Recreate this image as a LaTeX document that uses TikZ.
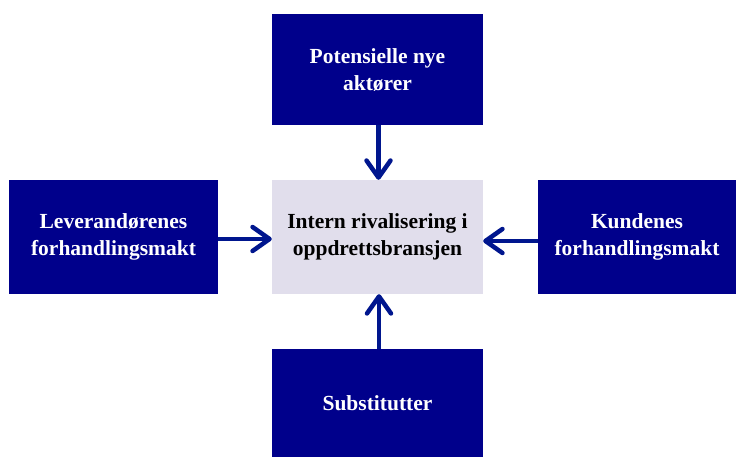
\documentclass[tikz,border=0pt]{standalone}
\usepackage{fontspec}
\setmainfont{Liberation Serif}
\usetikzlibrary{arrows.meta}
\definecolor{boxblue}{RGB}{0,0,139}
\definecolor{arrowblue}{RGB}{0,22,142}
\definecolor{lav}{RGB}{225,222,236}
\tikzset{
  force/.style={fill=boxblue, text=white, inner sep=0pt, align=center,
    font=\bfseries\fontsize{21.5}{27}\selectfont},
  core/.style={fill=lav, text=black, inner sep=0pt, align=center,
    font=\bfseries\fontsize{21.5}{27}\selectfont},
  flow/.style={draw=arrowblue, line width=4.5pt,
    -{Straight Barb[length=17pt,width=24pt,line cap=round,line join=round]}}
}
\begin{document}
\begin{tikzpicture}[x=1pt,y=-1pt]
\useasboundingbox (0,0) rectangle (736,457);
\fill[white] (0,0) rectangle (736,457);
\node[force, minimum width=211pt, minimum height=111pt] (top) at (377.5,69.5) {Potensielle nye\\aktører};
\node[core, minimum width=211pt, minimum height=114pt] (mid) at (377.5,237) {Intern rivalisering i\\oppdrettsbransjen};
\node[force, minimum width=209pt, minimum height=114pt] (left) at (113.5,237) {Leverandørenes\\forhandlingsmakt};
\node[force, minimum width=198pt, minimum height=114pt] (right) at (637,237) {Kundenes\\forhandlingsmakt};
\node[force, minimum width=211pt, minimum height=108pt] (bot) at (377.5,403) {Substitutter};
\draw[flow] ([xshift=1pt]top.south) -- ([xshift=1pt]mid.north);
\draw[flow] ([xshift=1.5pt]bot.north) -- ([xshift=1.5pt]mid.south);
\draw[flow] ([yshift=-2pt]left.east) -- ([yshift=-2pt]mid.west);
\draw[flow] ([yshift=-4pt]right.west) -- ([yshift=-4pt]mid.east);
\end{tikzpicture}
\end{document}
